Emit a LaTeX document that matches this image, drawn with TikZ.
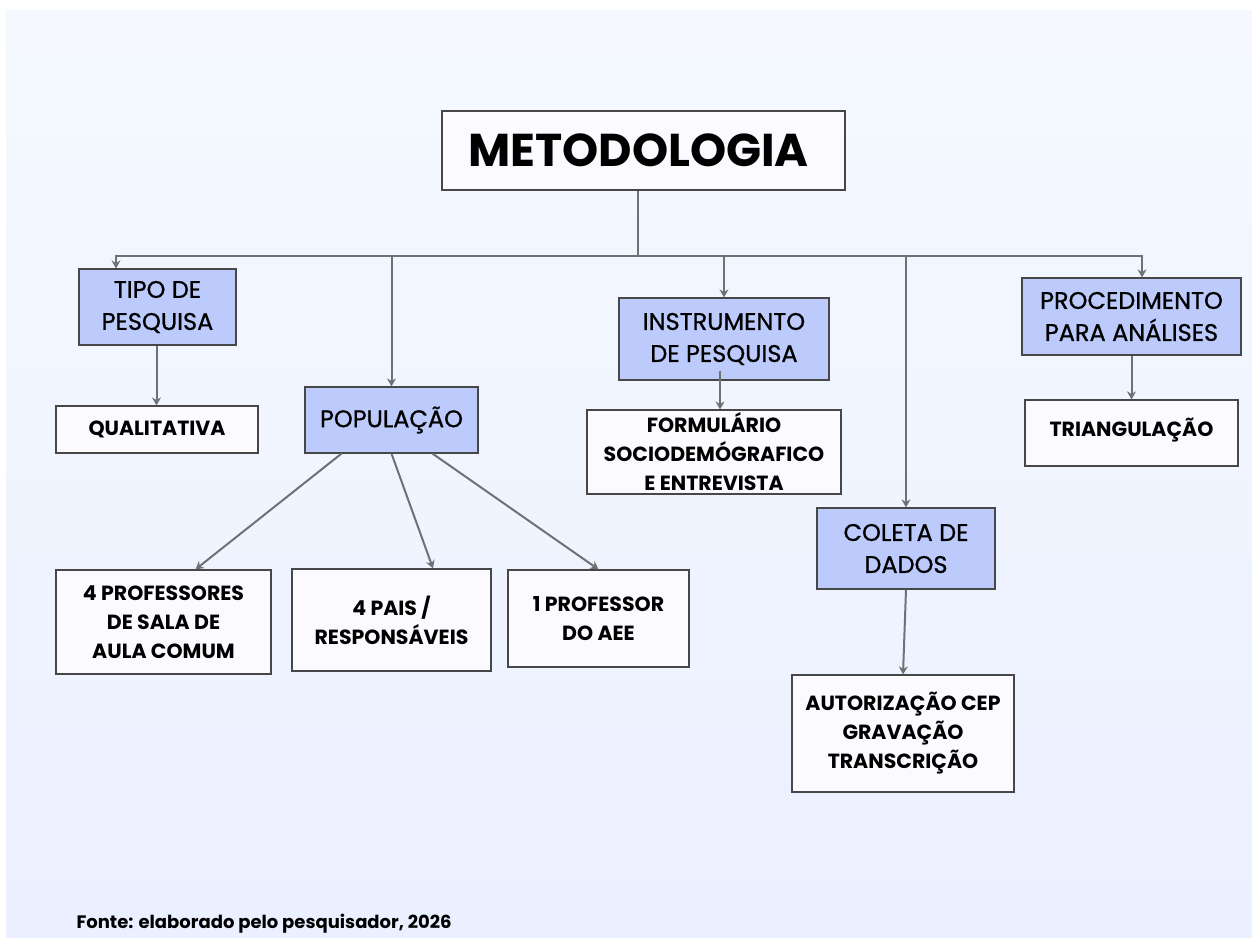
\documentclass[tikz,border=0pt]{standalone}
\usepackage{fontspec}
\setmainfont{Poppins}
\newfontfamily\catfont[FakeBold=0.9]{Poppins}
\usetikzlibrary{arrows.meta}
\definecolor{linegray}{HTML}{6E7275}
\definecolor{boxline}{HTML}{474747}
\definecolor{catblue}{HTML}{BCCBFC}
\definecolor{leafwhite}{HTML}{FBFBFF}
\definecolor{bgtop}{HTML}{F5F9FF}
\definecolor{bgbottom}{HTML}{EAF0FF}
\tikzset{box/.style={draw=boxline,line width=1.2pt,inner sep=0pt,align=center,text=black},
	topbox/.style={box,fill=leafwhite,font=\fontsize{46}{50}\selectfont\bfseries},
	catbox/.style={box,fill=catblue,font=\catfont\fontsize{24}{32}\selectfont},
	leafbox/.style={box,fill=leafwhite,font=\fontsize{20.5}{29}\selectfont\bfseries},
	link/.style={draw=linegray,line width=2pt},
	arrow/.style={link,-{Stealth[length=8pt,width=9pt]}}}

\begin{document}
\begin{tikzpicture}[x=1pt,y=-1pt]
\useasboundingbox (0,0) rectangle (1252,937);
\fill[white] (0,0) rectangle (1252,937);
\shade[top color=bgtop,bottom color=bgbottom] (6,10) rectangle (1252,937);

% root
\node[topbox,minimum width=403pt,minimum height=79pt] (meto) at (643.5,150.5) {METODOLOGIA\hspace{10pt}};

% categories
\node[catbox,minimum width=157pt,minimum height=76pt] (tipo) at (157.5,307) {TIPO DE\\PESQUISA};
\node[catbox,minimum width=173pt,minimum height=66pt] (popu) at (391.5,420) {POPULAÇÃO};
\node[catbox,minimum width=210pt,minimum height=82pt] (instr) at (724,339) {INSTRUMENTO\\DE PESQUISA};
\node[catbox,minimum width=178pt,minimum height=81pt] (coleta) at (906,548.5) {COLETA DE\\DADOS};
\node[catbox,minimum width=219pt,minimum height=77pt] (proc) at (1131.5,316.5) {PROCEDIMENTO\\PARA ANÁLISES};

% leaves
\node[leafbox,minimum width=202pt,minimum height=47pt] (quali) at (157,429.5) {QUALITATIVA};
\node[leafbox,minimum width=215pt,minimum height=104pt] (prof4) at (163.5,622) {4 PROFESSORES\\DE SALA DE\\AULA COMUM};
\node[leafbox,minimum width=199pt,minimum height=102pt] (pais) at (391.5,620) {4 PAIS /\\RESPONSÁVEIS};
\node[leafbox,minimum width=181pt,minimum height=97pt] (prof1) at (598.5,618.5) {1 PROFESSOR\\DO AEE};
\node[leafbox,minimum width=254pt,minimum height=84pt] (form) at (714,452) {FORMULÁRIO\\SOCIODEMÓGRAFICO\\E ENTREVISTA};
\node[leafbox,minimum width=222pt,minimum height=117pt] (autor) at (903,733.5) {AUTORIZAÇÃO CEP\\GRAVAÇÃO\\TRANSCRIÇÃO};
\node[leafbox,minimum width=213pt,minimum height=66pt,text depth=12pt] (tria) at (1131.5,433) {TRIANGULAÇÃO};

% bus
\coordinate (hub) at (638,256);
\draw[link] (meto.south -| hub) -- (hub);
\draw[arrow] (hub) -| ([xshift=-41.5pt]tipo.north);
\draw[arrow] (hub) -| ([xshift=10.5pt]proc.north);
\draw[arrow] (hub -| popu.north) -- (popu.north);
\draw[arrow] (hub -| instr.north) -- (instr.north);
\draw[arrow] (hub -| coleta.north) -- (coleta.north);

% branches
\draw[arrow] ([xshift=-1pt]tipo.south) -- ([xshift=-1pt]tipo.south |- quali.north);
\draw[arrow] ([xshift=-50pt]popu.south) -- ([xshift=32pt]prof4.north);
\draw[arrow] (popu.south) -- ([xshift=41.5pt]pais.north);
\draw[arrow] ([xshift=41pt]popu.south) -- (prof1.north);
\draw[arrow] ([xshift=-4pt,yshift=10pt]instr.south) -- ([xshift=-4pt]instr.south |- form.north);
\draw[arrow] (coleta.south) -- (autor.north);
\draw[arrow] (proc.south) -- (proc.south |- tria.north);

\node[anchor=west,font=\fontsize{18}{22}\selectfont\bfseries] (fonte) at (73,924) {Fonte: elaborado pelo pesquisador, 2026};
\end{tikzpicture}
\end{document}
